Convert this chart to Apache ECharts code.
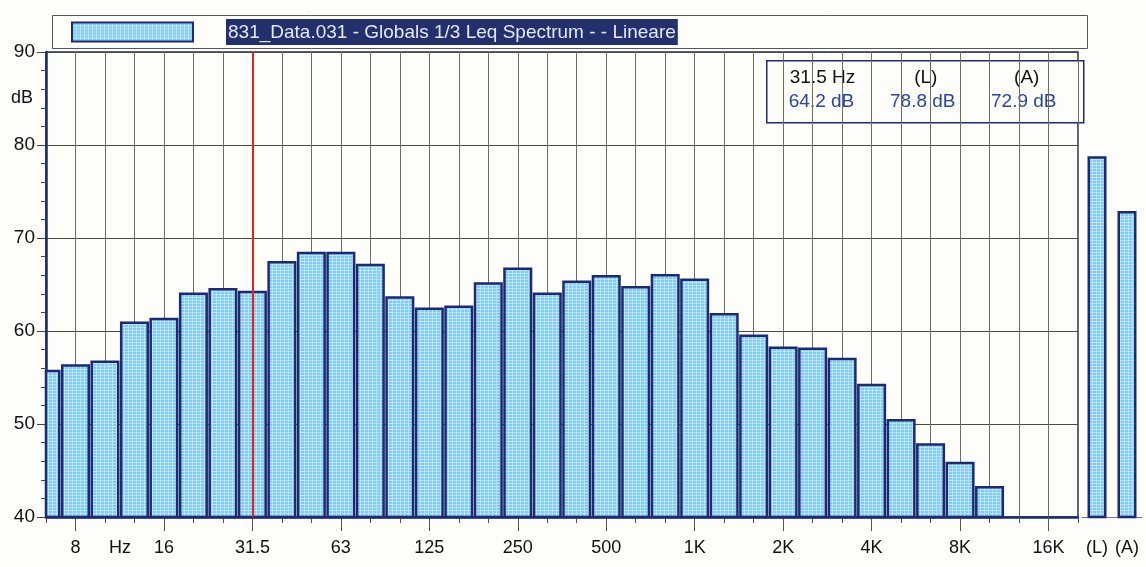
<!DOCTYPE html>
<html>
<head>
<meta charset="utf-8">
<script src="https://cdn.jsdelivr.net/npm/echarts@6/dist/echarts.min.js"></script>
<style>
  html, body { margin: 0; padding: 0; background: #fdfdfa; }
  #chart { width: 1146px; height: 567px; }
</style>
</head>
<body>
<div id="chart"></div>
<script>
// 1/3-octave band centres (Hz)
const bands = ['6.3','8','10','12.5','16','20','25','31.5','40','50','63','80','100','125','160','200','250','315','400','500','630','800','1K','1.25K','1.6K','2K','2.5K','3.15K','4K','5K','6.3K','8K','10K','12.5K','16K','20K'];
// Leq per band (dB); empty bands are below the 40 dB floor
const levels = [55.7,56.3,56.7,60.9,61.3,64.0,64.5,64.2,67.4,68.4,68.4,67.1,63.6,62.4,62.6,65.1,66.7,64.0,65.3,65.9,64.7,66.0,65.5,61.8,59.5,58.2,58.1,57.0,54.2,50.4,47.8,45.8,43.2,null,null,null];
// labelled frequencies on the band axis ('10' carries the unit)
const tickBands = ['8','10','16','31.5','63','125','250','500','1K','2K','4K','8K','16K'];
const tickTexts = ['8','Hz','16','31.5','63','125','250','500','1K','2K','4K','8K','16K'];
// overall levels: linear and A-weighted
const overallLabels = ['(L)','(A)'];
const overallLevels = [78.8, 72.9];
// y-axis ticks
const yTicks = [40, 50, 60, 70, 80, 90];
const cursorBand = '31.5';
const seriesTitle = '831_Data.031 - Globals 1/3 Leq Spectrum - - Lineare';

const FONT = '"Liberation Sans", Arial, Helvetica, sans-serif';
const NAVY = '#1c2a74';

// fine screen-like texture for the bar fill
function makeTexture() {
  const c = document.createElement('canvas');
  c.width = 4; c.height = 3;
  const g = c.getContext('2d');
  g.fillStyle = '#80cbf0';
  g.fillRect(0, 0, 4, 3);
  g.fillStyle = 'rgba(255,255,255,0.45)';
  g.fillRect(0, 0, 4, 1);
  g.fillRect(0, 1, 1, 2);
  return { image: c, repeat: 'repeat' };
}
const FILL = makeTexture();

const labelOf = {};
tickBands.forEach((b, i) => { labelOf[b] = tickTexts[i]; });
const majorSet = new Set(tickBands.filter(b => b !== '10'));

const cursorIdx = bands.indexOf(cursorBand);
const fmt = v => v.toFixed(1) + ' dB';
const yMin = yTicks[0];

// band bars are centred on the band points; the half bar at each end is cut at the frame
function renderBand(params, api) {
  const v = api.value(1);
  if (v == null || isNaN(v)) return null;
  const idx = api.value(0);
  const top = api.coord([idx, v]);
  const base = api.coord([idx, yMin]);
  const w = api.size([1, 0])[0] * 0.9;
  const cs = params.coordSys;
  const shape = echarts.graphic.clipRectByRect(
    { x: top[0] - w / 2, y: top[1], width: w, height: base[1] - top[1] },
    { x: cs.x, y: cs.y, width: cs.width, height: cs.height }
  );
  if (!shape) return null;
  return { type: 'rect', shape: shape, style: { fill: FILL, stroke: NAVY, lineWidth: 2.5 } };
}

const chart = echarts.init(document.getElementById('chart'), null, { renderer: 'canvas' });

chart.setOption({
  animation: false,
  backgroundColor: '#fdfdfa',
  textStyle: { fontFamily: FONT },
  grid: [
    { left: 46, right: 68, top: 52, bottom: 50, show: true, borderColor: NAVY, borderWidth: 1.5, backgroundColor: 'transparent' },
    { left: 1082, width: 60, top: 52, bottom: 50 }
  ],
  legend: {
    data: [seriesTitle],
    left: 71, top: 19, padding: 0,
    icon: 'rect',
    itemWidth: 121, itemHeight: 19,
    selectedMode: false,
    formatter: name => '{g| }{t|' + name + '}',
    textStyle: {
      fontFamily: FONT,
      rich: {
        g: { width: 28 },
        t: { backgroundColor: '#22306e', color: '#e4e8f4', fontSize: 19, padding: [4, 2, 3, 2], fontFamily: FONT }
      }
    }
  },
  xAxis: [
    {
      type: 'category', gridIndex: 0, data: bands, boundaryGap: false,
      axisLine: { lineStyle: { color: NAVY, width: 2.5 } },
      axisTick: { show: true, interval: 0, length: 6, lineStyle: { color: '#555' } },
      axisLabel: {
        interval: 0, margin: 22, color: '#111', fontSize: 18, fontFamily: FONT,
        formatter: v => labelOf[v] === undefined ? '' : (v === '10' ? '{u|' + labelOf[v] + '}' : labelOf[v]),
        rich: { u: { padding: [0, 0, 0, 30], fontSize: 18, color: '#111', fontFamily: FONT } }
      },
      splitLine: { show: true, interval: 0, lineStyle: { color: '#756c5a', width: 1 } }
    },
    {
      type: 'category', gridIndex: 0, data: bands, boundaryGap: false, position: 'bottom',
      axisLine: { show: false },
      axisTick: { show: true, length: 14, interval: (i, v) => majorSet.has(v), lineStyle: { color: '#555' } },
      axisLabel: { show: false },
      splitLine: { show: false }
    },
    {
      type: 'category', gridIndex: 1, data: overallLabels,
      axisLine: { lineStyle: { color: '#777', width: 1 } },
      axisTick: { show: false },
      axisLabel: { interval: 0, margin: 22, color: '#111', fontSize: 18, fontFamily: FONT }
    }
  ],
  yAxis: [
    {
      type: 'value', gridIndex: 0, min: yMin, max: yTicks[yTicks.length - 1], interval: 10,
      axisLine: { show: true, lineStyle: { color: NAVY, width: 2.5 } },
      axisTick: { show: true, length: 9, lineStyle: { color: '#444' } },
      minorTick: { show: true, splitNumber: 5, length: 5, lineStyle: { color: '#444' } },
      axisLabel: { margin: 11, color: '#111', fontSize: 19, fontFamily: FONT },
      splitLine: { show: true, lineStyle: { color: '#4a4a42', width: 1 } }
    },
    {
      type: 'value', gridIndex: 0, position: 'left', min: yMin, max: 90, interval: 5,
      axisLine: { show: false }, axisTick: { show: false }, splitLine: { show: false },
      axisLabel: { margin: 13, color: '#111', fontSize: 18, fontFamily: FONT, formatter: v => v === 85 ? 'dB' : '' }
    },
    {
      type: 'value', gridIndex: 1, min: yMin, max: 90, show: false
    }
  ],
  series: [
    {
      name: seriesTitle, type: 'custom', xAxisIndex: 0, yAxisIndex: 0,
      data: levels.map((v, i) => [i, v]),
      encode: { x: 0, y: 1 },
      renderItem: renderBand,
      itemStyle: { color: FILL, borderColor: NAVY, borderWidth: 2.5 },
      markLine: {
        silent: true, symbol: 'none', animation: false,
        label: { show: false },
        lineStyle: { color: '#e3261c', width: 2, type: 'solid' },
        data: [{ xAxis: cursorIdx }]
      }
    },
    {
      name: 'overall', type: 'bar', xAxisIndex: 2, yAxisIndex: 2,
      data: overallLevels, barWidth: 19,
      itemStyle: { color: FILL, borderColor: NAVY, borderWidth: 2.5 }
    }
  ],
  graphic: [
    {
      type: 'rect', left: 50, top: 13, shape: { width: 1035, height: 33 },
      style: { fill: 'none', stroke: '#555', lineWidth: 1 }, z: 10
    },
    {
      type: 'group', left: 766, top: 60, z: 20,
      children: [
        { type: 'rect', shape: { x: 0, y: 0, width: 317, height: 62 }, style: { fill: '#fdfdfa', stroke: NAVY, lineWidth: 1.5 } },
        { type: 'text', x: 23, y: 17, style: { text: bands[cursorIdx] + ' Hz', fill: '#111', font: '19px ' + FONT, textAlign: 'left', textVerticalAlign: 'middle' } },
        { type: 'text', x: 22, y: 41, style: { text: fmt(levels[cursorIdx]), fill: '#2a45a0', font: '19px ' + FONT, textAlign: 'left', textVerticalAlign: 'middle' } },
        { type: 'text', x: 159, y: 17, style: { text: overallLabels[0], fill: '#111', font: '19px ' + FONT, textAlign: 'center', textVerticalAlign: 'middle' } },
        { type: 'text', x: 156, y: 41, style: { text: fmt(overallLevels[0]), fill: '#2a45a0', font: '19px ' + FONT, textAlign: 'center', textVerticalAlign: 'middle' } },
        { type: 'text', x: 260, y: 17, style: { text: overallLabels[1], fill: '#111', font: '19px ' + FONT, textAlign: 'center', textVerticalAlign: 'middle' } },
        { type: 'text', x: 257, y: 41, style: { text: fmt(overallLevels[1]), fill: '#2a45a0', font: '19px ' + FONT, textAlign: 'center', textVerticalAlign: 'middle' } }
      ]
    }
  ]
});
</script>
</body>
</html>
